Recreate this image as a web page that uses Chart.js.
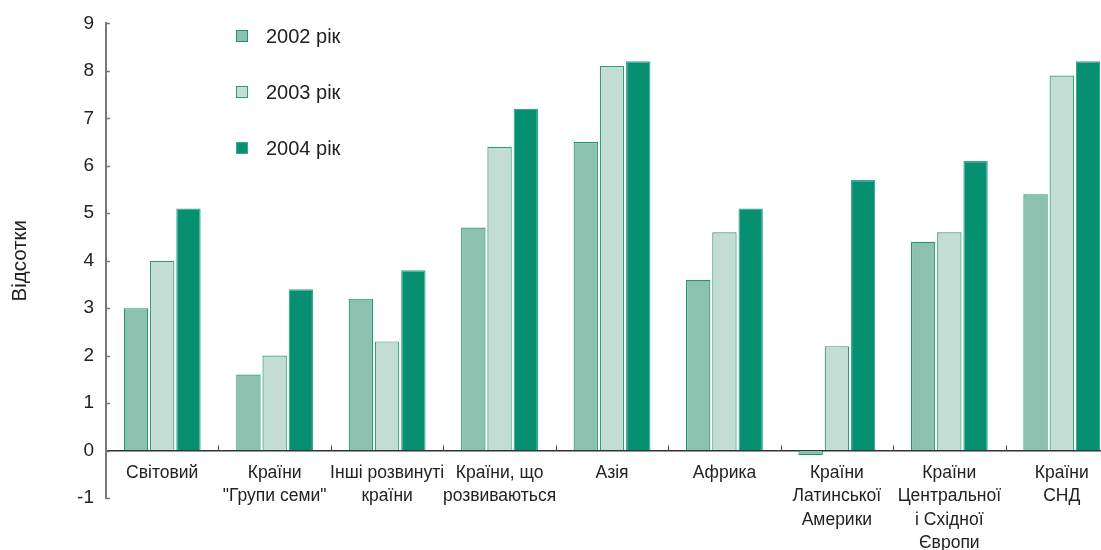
<!DOCTYPE html>
<html>
<head>
<meta charset="utf-8">
<script src="https://cdn.jsdelivr.net/npm/chart.js@4/dist/chart.umd.min.js"></script>
<style>
  html, body { margin: 0; padding: 0; background: #fff; overflow: hidden; }
  #wrap { position: relative; width: 1118px; height: 550px; }
  #legend { position: absolute; left: 0; top: 0; font-family: "Liberation Sans", Arial, sans-serif; font-size: 20px; color: #222; }
  .li { position: absolute; left: 236px; white-space: nowrap; }
  .sw { position: absolute; left: 0; width: 10px; height: 10px; }
  .lt { position: absolute; left: 30px; line-height: 20px; }
</style>
</head>
<body>
<div id="wrap"><canvas id="c" width="1118" height="550"></canvas><div id="legend"></div></div>
<script>
const categories = [
  "Світовий",
  ["Країни", "\"Групи семи\""],
  ["Інші розвинуті", "країни"],
  ["Країни, що", "розвиваються"],
  "Азія",
  "Африка",
  ["Країни", "Латинської", "Америки"],
  ["Країни", "Центральної", "і Східної", "Європи"],
  ["Країни", "СНД"]
];
const seriesNames = ["2002 рік", "2003 рік", "2004 рік"];
const values2002 = [3.0, 1.6, 3.2, 4.7, 6.5, 3.6, -0.1, 4.4, 5.4];
const values2003 = [4.0, 2.0, 2.3, 6.4, 8.1, 4.6, 2.2, 4.6, 7.9];
const values2004 = [5.1, 3.4, 3.8, 7.2, 8.2, 5.1, 5.7, 6.1, 8.2];
const yTicks = [-1, 0, 1, 2, 3, 4, 5, 6, 7, 8, 9];
const yTitle = "Відсотки";

const fills = ["#8cc0af", "#c3ddd5", "#078f72"];
const borders = ["#1f9570", "#2f9c7c", "#3aa88a"];
const allValues = [values2002, values2003, values2004];

const datasets = allValues.map((v, i) => ({
  label: seriesNames[i],
  data: v,
  backgroundColor: fills[i],
  borderColor: borders[i],
  borderWidth: 1.2,
  categoryPercentage: 0.7,
  barPercentage: 0.93
}));

const FONT = "'Liberation Sans', Arial, sans-serif";
const TXT = "#222";

// Inward tick marks placed from the library's scales
const inwardTicks = {
  id: 'inwardTicks',
  afterDraw(chart) {
    const ctx = chart.ctx;
    const xs = chart.scales.x, ys = chart.scales.y;
    ctx.save();
    ctx.strokeStyle = '#777';
    ctx.lineWidth = 1.5;
    ys.ticks.forEach(t => {
      const y = Math.round(ys.getPixelForValue(t.value)) + 0.5;
      ctx.beginPath(); ctx.moveTo(ys.right, y); ctx.lineTo(ys.right + 4, y); ctx.stroke();
    });
    const zeroY = ys.getPixelForValue(0);
    const half = (xs.getPixelForValue(1) - xs.getPixelForValue(0)) / 2;
    ctx.strokeStyle = '#444';
    ctx.lineWidth = 1;
    for (let i = 1; i < categories.length; i++) {
      const x = Math.round(xs.getPixelForValue(i) - half) + 0.5;
      ctx.beginPath(); ctx.moveTo(x, zeroY); ctx.lineTo(x, zeroY - 5); ctx.stroke();
    }
    ctx.restore();
  }
};

new Chart(document.getElementById('c'), {
  type: 'bar',
  data: { labels: categories, datasets },
  plugins: [inwardTicks],
  options: {
    responsive: false,
    animation: false,
    layout: { padding: { top: 22, bottom: 52, left: 0, right: 0 } },
    plugins: { legend: { display: false }, tooltip: { enabled: false } },
    scales: {
      x: {
        position: { y: 0 },
        offset: true,
        grid: { drawOnChartArea: false, drawTicks: false, offset: true },
        border: { display: true, color: '#333', width: 1.5 },
        ticks: {
          color: TXT, padding: 11, maxRotation: 0, autoSkip: false,
          font: { family: FONT, size: 17.5, lineHeight: 1.33 }
        }
      },
      y: {
        min: -1, max: 9,
        afterBuildTicks: (s) => { s.ticks = yTicks.map(v => ({ value: v })); },
        afterFit: (s) => { s.width = 106; },
        grid: { drawOnChartArea: false, drawTicks: false },
        border: { display: true, color: '#7a7a7a', width: 2 },
        ticks: { color: TXT, padding: 12, font: { family: FONT, size: 19 } },
        title: { display: true, text: yTitle, color: TXT, font: { family: FONT, size: 20.5 }, padding: { top: 8, bottom: 0 } }
      }
    }
  }
});

// HTML legend built from the datasets
const leg = document.getElementById('legend');
const legY = [36, 92, 148];
datasets.forEach((d, i) => {
  const it = document.createElement('div');
  it.className = 'li';
  it.style.top = (legY[i] - 10) + 'px';
  const sw = document.createElement('div');
  sw.className = 'sw';
  sw.style.top = '4px';
  sw.style.background = d.backgroundColor;
  sw.style.border = '1px solid ' + d.borderColor;
  const t = document.createElement('div');
  t.className = 'lt';
  t.textContent = d.label;
  it.appendChild(sw); it.appendChild(t);
  leg.appendChild(it);
});
</script>
</body>
</html>
